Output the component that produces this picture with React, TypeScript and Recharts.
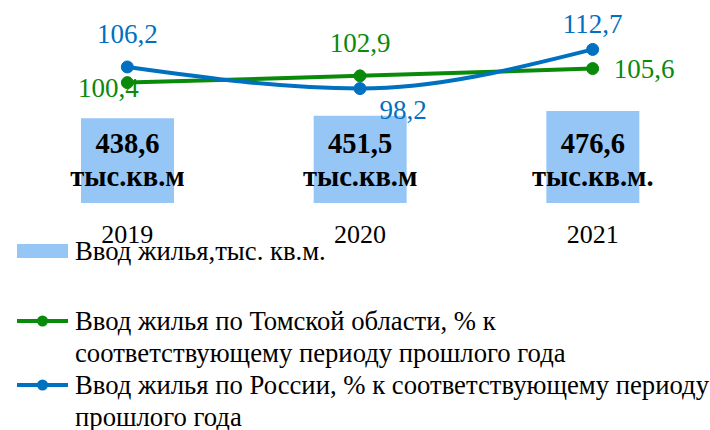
import React from 'react';
import { ComposedChart, Bar, Line, XAxis, YAxis, LabelList, Legend } from 'recharts';

const years = ['2019', '2020', '2021'];
const housingVolume = [438.6, 451.5, 476.6];
const housingUnits = ['тыс.кв.м', 'тыс.кв.м', 'тыс.кв.м.'];
const tomskPct = [100.4, 102.9, 105.6];
const russiaPct = [106.2, 98.2, 112.7];
const edgeTicks = [0, 1, 2, 3];

const nameVolume = 'Ввод жилья,тыс. кв.м.';
const nameTomsk = 'Ввод жилья по Томской области, % к соответствующему периоду прошлого года';
const nameRussia = 'Ввод жилья по России, % к соответствующему периоду прошлого года';
const legendOrder = ['volume', 'tomsk', 'russia'];

const data = years.map((year, i) => ({
  year,
  volume: housingVolume[i],
  unit: housingUnits[i],
  tomsk: tomskPct[i],
  russia: russiaPct[i],
}));

const GREEN = '#0A8A0A';
const BLUE = '#0070C0';
const BAR = '#95C6F6';
const AXIS = '#A6A6A6';
const FONT = '"Liberation Serif", "Times New Roman", serif';
const fmt = (v: number) => v.toFixed(1).replace('.', ',');

// label placement names per point (layout only)
const tomskPlacement = ['leftBelow', 'top', 'right'];
const russiaPlacement = ['top', 'belowRight', 'topNear'];

const offsets: Record<string, { dx: number; dy: number; anchor: string }> = {
  top: { dx: 0, dy: -24, anchor: 'middle' },
  topNear: { dx: 0, dy: -16, anchor: 'middle' },
  leftBelow: { dx: -19, dy: 14, anchor: 'middle' },
  right: { dx: 21, dy: 9, anchor: 'start' },
  belowRight: { dx: 43, dy: 30, anchor: 'middle' },
};

function pointLabel(color: string, placement: string[]) {
  return (props: any) => {
    const { x, y, value, index } = props;
    const o = offsets[placement[index]] || offsets.top;
    return (
      <text
        x={Number(x) + o.dx}
        y={Number(y) + o.dy}
        textAnchor={o.anchor as any}
        fill={color}
        fontFamily={FONT}
        fontSize={27}
      >
        {fmt(Number(value))}
      </text>
    );
  };
}

const barLabel = (props: any) => {
  const { x, y, width, height, value, index } = props;
  const cx = Number(x) + Number(width) / 2;
  const bottom = Number(y) + Number(height);
  return (
    <g>
      <text x={cx} y={bottom - 50} textAnchor="middle" fontFamily={FONT} fontWeight="bold" fontSize={28.5} fill="#000">
        {fmt(Number(value))}
      </text>
      <text x={cx} y={bottom - 17} textAnchor="middle" fontFamily={FONT} fontWeight="bold" fontSize={28.5} fill="#000">
        {housingUnits[index]}
      </text>
    </g>
  );
};

const legendTops = [235, 305, 369];

const renderLegend = (props: any) => {
  const payload = [...(props.payload || [])].sort(
    (a: any, b: any) => legendOrder.indexOf(a.dataKey) - legendOrder.indexOf(b.dataKey)
  );
  return (
    <div style={{ position: 'relative', width: 710, height: 430 }}>
      {payload.map((entry: any, i: number) => {
        const isBar = entry.dataKey === 'volume';
        return (
          <div
            key={i}
            style={{ position: 'absolute', left: 17, top: legendTops[i], display: 'flex', alignItems: 'flex-start' }}
          >
            <svg width={51} height={32} style={{ flex: 'none', display: 'block' }}>
              {isBar ? (
                <rect x={0} y={9} width={51} height={14} fill={entry.color} />
              ) : (
                <g>
                  <line x1={0} y1={16} x2={51} y2={16} stroke={entry.color} strokeWidth={4} />
                  <circle cx={25.5} cy={16} r={5.5} fill={entry.color} />
                </g>
              )}
            </svg>
            <div
              style={{
                marginLeft: 7,
                width: 634,
                fontFamily: FONT,
                fontSize: 26.7,
                lineHeight: '32px',
                color: '#000',
                textAlign: 'left',
              }}
            >
              {entry.value}
            </div>
          </div>
        );
      })}
    </div>
  );
};

export default function App() {
  return (
    <div style={{ position: 'absolute', left: 0, top: 0, width: 710, height: 430, background: '#fff' }}>
      <ComposedChart
        width={710}
        height={430}
        data={data}
        margin={{ top: 3, right: 1, left: 11, bottom: 187 }}
        style={{ fontFamily: FONT }}
      >
        <XAxis
          xAxisId="edge"
          type="number"
          domain={[0, 3]}
          ticks={edgeTicks}
          allowDataOverflow
          height={0}
          tick={false}
          tickSize={8}
          tickLine={{ stroke: AXIS, strokeWidth: 1.5 }}
          axisLine={{ stroke: AXIS, strokeWidth: 1.5 }}
        />
        <XAxis
          dataKey="year"
          height={40}
          axisLine={false}
          tickLine={false}
          tickSize={0}
          tickMargin={22}
          tick={{ fontFamily: FONT, fontSize: 26, fill: '#000' }}
        />
        <YAxis yAxisId="vol" domain={[0, 1036]} hide />
        <YAxis yAxisId="pct" orientation="right" domain={[55.8, 129.9]} hide />
        <Bar
          dataKey="volume"
          name={nameVolume}
          yAxisId="vol"
          fill={BAR}
          barSize={93}
          isAnimationActive={false}
        >
          <LabelList dataKey="volume" content={barLabel} />
        </Bar>
        <Line
          dataKey="tomsk"
          name={nameTomsk}
          yAxisId="pct"
          type="linear"
          stroke={GREEN}
          strokeWidth={4}
          dot={{ r: 6, fill: GREEN, stroke: GREEN, strokeWidth: 1 }}
          isAnimationActive={false}
        >
          <LabelList dataKey="tomsk" content={pointLabel(GREEN, tomskPlacement)} />
        </Line>
        <Line
          dataKey="russia"
          name={nameRussia}
          yAxisId="pct"
          type="monotone"
          stroke={BLUE}
          strokeWidth={4}
          dot={{ r: 6, fill: BLUE, stroke: BLUE, strokeWidth: 1 }}
          isAnimationActive={false}
        >
          <LabelList dataKey="russia" content={pointLabel(BLUE, russiaPlacement)} />
        </Line>
        <Legend
          layout="vertical"
          align="center"
          verticalAlign="middle"
          wrapperStyle={{ left: 0, top: 0, width: 710, height: 430, pointerEvents: 'none' }}
          content={renderLegend}
        />
      </ComposedChart>
    </div>
  );
}
